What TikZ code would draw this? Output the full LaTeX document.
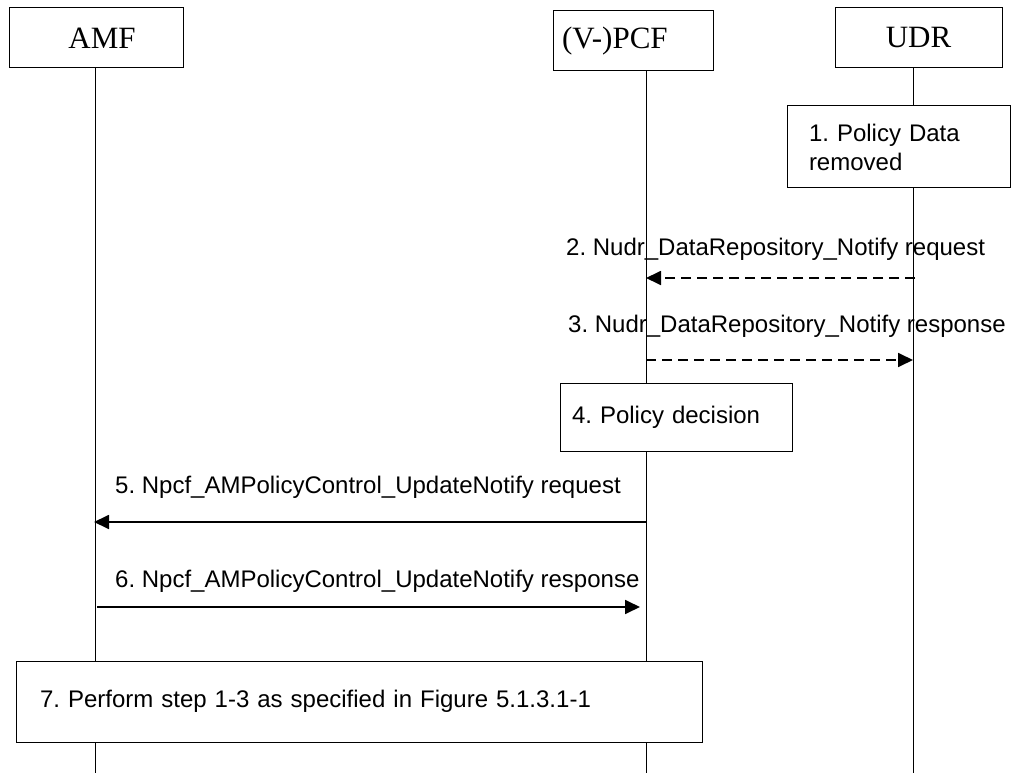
\documentclass[tikz,border=0pt]{standalone}
\usepackage{fontspec}
\setmainfont{Liberation Serif}
\newfontfamily\arialfont{Liberation Sans}
\usetikzlibrary{arrows.meta,calc}
\frenchspacing
\begin{document}
\begin{tikzpicture}[x=1pt,y=-1pt,
  headbox/.style={draw,line width=1pt,fill=white,inner sep=0pt,outer sep=0pt,anchor=north west,
    minimum height=60,font=\fontsize{31}{36}\selectfont},
  stepbox/.style={draw,line width=1pt,fill=white,inner ysep=0pt,outer sep=0pt,anchor=north west,
    align=left,font=\arialfont\fontsize{24}{29}\selectfont},
  lbl/.style={anchor=base west,inner sep=0pt,font=\arialfont\fontsize{24}{29}\selectfont},
  life/.style={line width=0.9pt},
  msg/.style={line width=1.8pt,-{Triangle[length=15pt,width=14pt]}},
  dsh/.style={dash pattern=on 10pt off 6pt}
]
\useasboundingbox (0,0) rectangle (1013,773);

% header boxes
\node[headbox,minimum width=174,text width=174,align=center] (amf) at (9,8) {\hspace*{12pt}AMF};
\node[headbox,minimum width=160,text width=142,inner xsep=9,align=left] (pcf) at (553,11) {(V-)PCF};
\node[headbox,minimum width=167] (udr) at (835,8) {UDR};

% lifeline tops and bottoms
\coordinate (amftop) at ($(amf.south west)+(86,0)$);
\coordinate (pcftop) at ($(pcf.south west)+(93,0)$);
\coordinate (udrtop) at ($(udr.south west)+(78,0)$);
\coordinate (amfend) at (amftop |- 0,773);
\coordinate (pcfend) at (pcftop |- 0,773);
\coordinate (udrend) at (udrtop |- 0,773);

% lifelines
\draw[life] (amftop) -- (amfend);
\draw[life] (pcftop) -- (pcfend);
\draw[life] (udrtop) -- (udrend);

% step boxes
\node[stepbox,minimum width=223,minimum height=82,inner xsep=22,text width=179] (s1) at (787,106)
  {1. Policy Data\\removed};
\node[stepbox,minimum width=232,minimum height=68,inner xsep=12,text width=208] (s4) at (560,383)
  {4. Policy decision};
\node[stepbox,minimum width=686,minimum height=81,inner xsep=24,text width=638] (s7) at (16,661)
  {7. Perform step 1-3 as specified in Figure 5.1.3.1-1};

% messages
\node[lbl] (l2) at (566,255) {2. Nudr\_DataRepository\_Notify request};
\draw[msg,dsh] ($(udrtop |- 0,278)+(2,0)$) -- (pcftop |- 0,278);

\node[lbl] (l3) at (568,332) {3. Nudr\_DataRepository\_Notify response};
\draw[msg,dsh] (pcftop |- 0,360) -- (udrtop |- 0,360);

\node[lbl] (l5) at (115,493) {5. Npcf\_AMPolicyControl\_UpdateNotify request};
\draw[msg] (pcftop |- 0,522) -- ($(amftop |- 0,522)+(-1,0)$);

\node[lbl] (l6) at (115,587) {6. Npcf\_AMPolicyControl\_UpdateNotify response};
\draw[msg] ($(amftop |- 0,607)+(2,0)$) -- ($(pcftop |- 0,607)+(-6,0)$);
\end{tikzpicture}
\end{document}
